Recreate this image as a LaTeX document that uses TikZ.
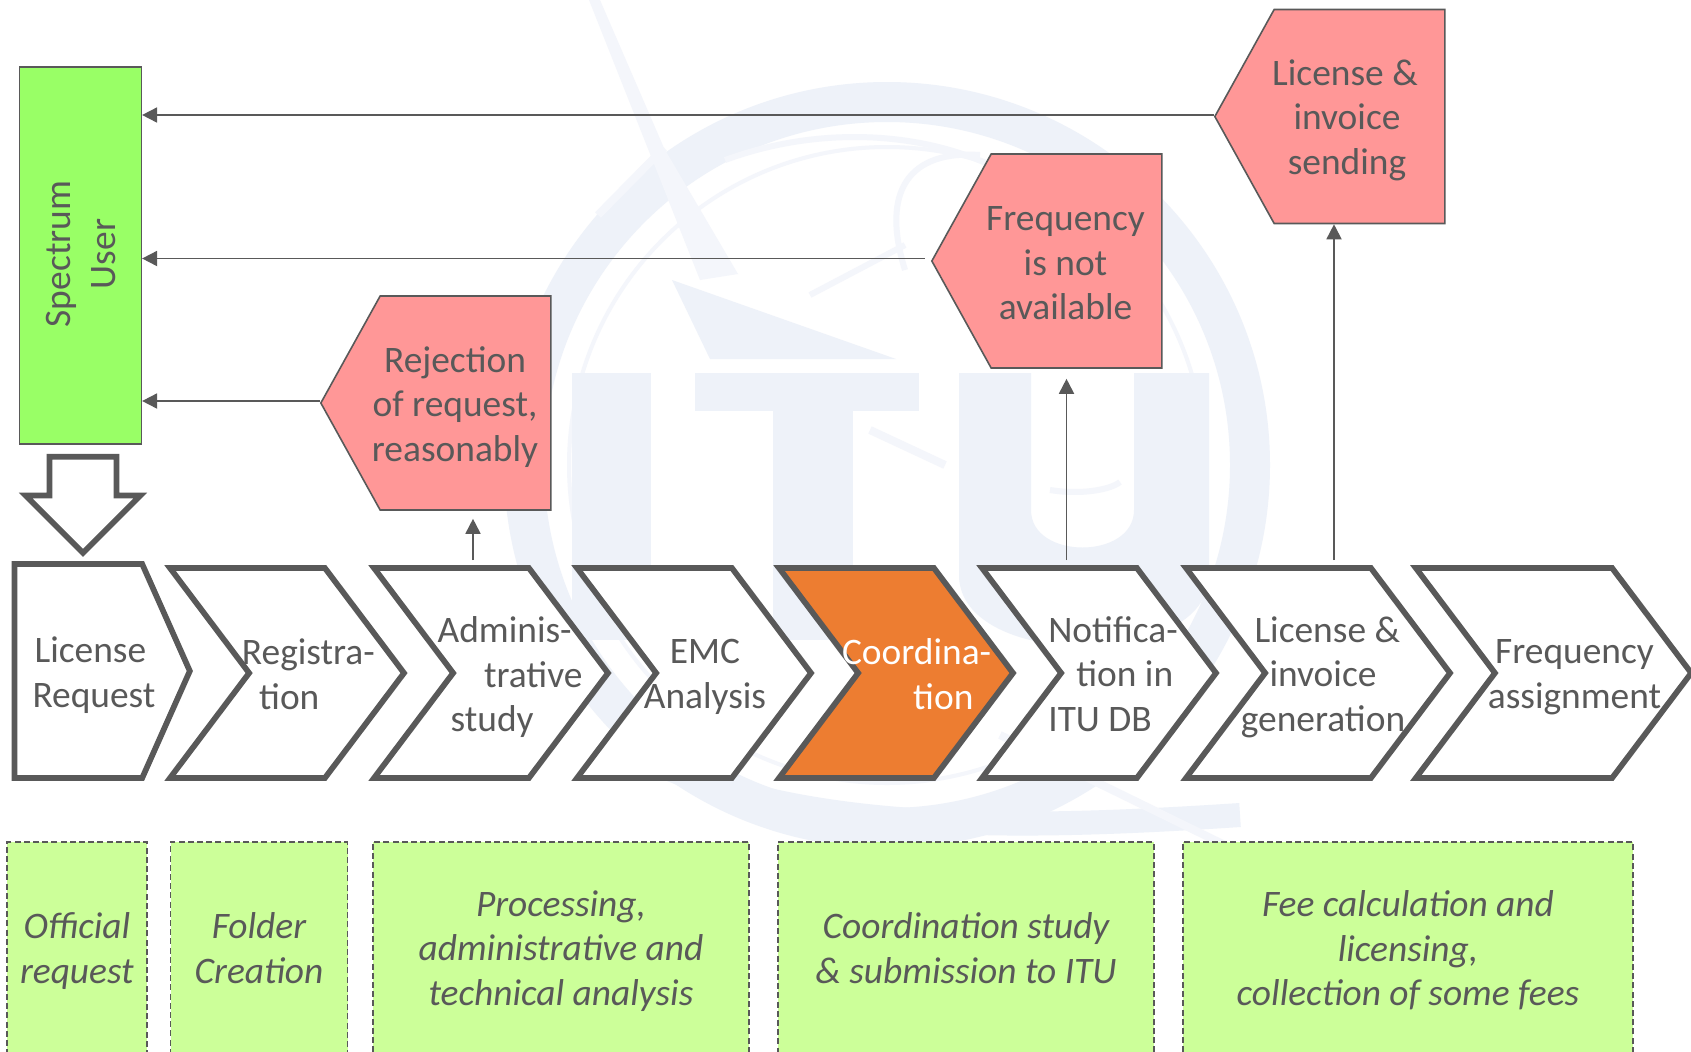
\documentclass[tikz,border=0pt]{standalone}
\usepackage{fontspec}
\setmainfont{Carlito}
\usepackage{xcolor}
\usetikzlibrary{arrows.meta,shapes.symbols,shapes.arrows}
\definecolor{linegrey}{HTML}{595959}
\definecolor{wmblue}{HTML}{EEF2F9}
\definecolor{wmpale}{HTML}{F4F6FB}
\definecolor{userfill}{HTML}{99FF66}
\definecolor{panelfill}{HTML}{FF9797}
\definecolor{notefill}{HTML}{CCFF99}
\definecolor{hotfill}{HTML}{ED7D31}
\tikzset{
  stepshape/.style={signal,signal to=east,draw=linegrey,fill=white,line width=2.85pt,inner sep=0pt,minimum height=105pt},
  stepbox/.style={stepshape,signal from=west,signal pointer angle=106,minimum width=117pt},
  steptext/.style={text=linegrey,align=left,font=\fontsize{18.7}{22.4}\selectfont,inner sep=0pt,text depth=0pt},
  panel/.style={signal,signal to=west,signal from=nowhere,signal pointer angle=122,draw=linegrey,fill=panelfill,line width=0.8pt,inner sep=0pt,minimum width=115pt,minimum height=107pt},
  paneltext/.style={steptext,align=center},
  notebox/.style={draw=linegrey,fill=notefill,line width=0.9pt,dash pattern=on 3pt off 1.6pt,inner sep=0pt,minimum height=106pt,align=center,text=linegrey,text depth=0pt,font=\fontsize{18.7}{22.4}\selectfont\itshape},
  flow/.style={draw=linegrey,line width=0.9pt,-{Triangle[length=7.5pt,width=7.5pt]}}
}
\begin{document}
\begin{tikzpicture}[x=0.5pt,y=-0.5pt]
\useasboundingbox (0,0) rectangle (1691,1051);
\clip (0,0) rectangle (1691,1051);
% watermark
\fill[white] (0,0) rectangle (1691,1051);
\draw[wmblue,line width=20pt] (887,465) circle [radius=363];
\draw[wmpale,line width=2pt] (887,465) circle [radius=318];
\fill[wmblue] (572,373) rectangle (651,640);
\fill[wmblue] (695,373) rectangle (919,411);
\fill[wmblue] (773,411) rectangle (853,640);
\fill[wmblue] (959,373) -- (959,575) .. controls (959,670) and (1209,670) .. (1209,575) -- (1209,373) -- (1134,373) -- (1134,510) .. controls (1134,560) and (1031,560) .. (1031,510) -- (1031,373) -- cycle;
\fill[wmpale] (589,0) -- (600,0) -- (664,148) -- (738,274) -- (700,280) -- cycle;
\fill[wmblue] (672,280) -- (896,359) -- (710,359) -- cycle;
\draw[wmpale,line width=4pt] (664,148) -- (598,215);
\draw[wmpale,line width=3pt] (725,160) .. controls (820,125) and (930,130) .. (1010,175);
\draw[wmpale,line width=3pt] (905,270) .. controls (880,190) and (910,150) .. (980,155);
\draw[wmpale,line width=3pt] (810,295) -- (905,245);
\draw[wmpale,line width=4pt] (870,430) -- (945,465);
\draw[wmpale,line width=3pt] (1050,490) .. controls (1080,495) and (1110,490) .. (1120,482);
\draw[wmblue,line width=12pt] (620,745) .. controls (780,835) and (1010,830) .. (1240,815);
\draw[wmpale,line width=4pt] (1000,735) -- (1235,850);
% user and outcomes
\node[draw=linegrey,fill=userfill,line width=0.8pt,inner sep=0pt,minimum width=61pt,minimum height=188.5pt] (user) at (80.3,255.5) {};
\node[steptext,align=center,rotate=90] (usertext) at (81,254) {Spectrum\\User};
\node[panel] (rejectbox) at (465.5,403) {};
\node[paneltext] (rejecttext) at (455,404) {Rejection\\of request,\\reasonably};
\node[panel] (freqbox) at (1076.5,261) {};
\node[paneltext] (freqtext) at (1065.5,263) {Frequency\\is not\\available};
\node[panel] (sendbox) at (1359.5,116.5) {};
\node[paneltext] (sendtext) at (1347,117) {License \&\hspace*{2pt}\\invoice\\sending};
% steps
\node[single arrow,shape border rotate=270,draw=linegrey,fill=white,line width=2.85pt,inner sep=0pt,single arrow head extend=11.9pt,single arrow head indent=0pt,minimum width=54.5pt,minimum height=48pt] (handover) at (83,488) {\rule{30.7pt}{0pt}};
\node[stepshape,signal from=nowhere,signal pointer angle=132,minimum width=87.7pt,minimum height=107pt] (request) at (78.3,671) {};
\node[stepbox] (regist) at (287,673) {};
\node[stepbox] (admin) at (491,673) {};
\node[stepbox] (emc) at (694,673) {};
\node[stepbox,fill=hotfill] (coord) at (896,673) {};
\node[stepbox] (notif) at (1099,673) {};
\node[stepbox,minimum width=132pt] (invoice) at (1318,673) {};
\node[stepbox,minimum width=137.7pt] (assign) at (1553.5,673) {};
\node[steptext] (requesttext) at (94,672) {\hspace*{1pt}License\\Request};
\node[steptext] (registtext) at (308.4,674) {Registra-\\\hspace*{8.6pt}tion};
\node[steptext] (admintext) at (510,674) {Adminis-\\\hspace*{23.2pt}trative\\\hspace*{6.5pt}study};
\node[steptext,align=center] (emctext) at (705,674) {EMC\\Analysis};
\node[steptext,text=white] (coordtext) at (916.6,674) {Coordina-\\\hspace*{35.6pt}tion};
\node[steptext] (notiftext) at (1113,674) {Notifica-\\\hspace*{14pt}tion in\\ITU DB};
\node[steptext,align=center] (invoicetext) at (1323,674) {\hspace*{4.3pt}License \&\\invoice\\generation};
\node[steptext,align=center] (assigntext) at (1574.5,674) {Frequency\\assignment};
% notes
\node[notebox,minimum width=70pt] (noteofficial) at (76.9,948) {Official\\request};
\node[notebox,minimum width=88.5pt] (notefolder) at (259,948) {Folder\\Creation};
\node[notebox,minimum width=188pt] (noteproc) at (561,948) {Processing,\\administrative and\\technical analysis};
\node[notebox,minimum width=187.7pt] (notecoord) at (966,948) {Coordination study\\\& submission to ITU};
\node[notebox,minimum width=224.8pt] (notefee) at (1408,948) {Fee calculation and\\licensing,\\collection of some fees};
% arrows
\coordinate (adminout) at (473,560);
\coordinate (notifout) at (1066.5,560);
\coordinate (invoiceout) at (1334,560);
\coordinate (rejectout) at ([yshift=1pt]rejectbox.west);
\coordinate (freqout) at ([yshift=1.25pt]freqbox.west);
\coordinate (sendout) at ([yshift=0.75pt]sendbox.west);
\draw[flow,shorten >=4pt] (adminout) -- (adminout |- rejectbox.south);
\draw[flow,shorten >=5pt] (notifout) -- (notifout |- freqbox.south);
\draw[flow] (invoiceout) -- (invoiceout |- sendbox.south);
\draw[flow] (rejectout) -- (rejectout -| user.east);
\draw[flow,shorten <=3pt] (freqout) -- (freqout -| user.east);
\draw[flow] (sendout) -- (sendout -| user.east);
\end{tikzpicture}
\end{document}
